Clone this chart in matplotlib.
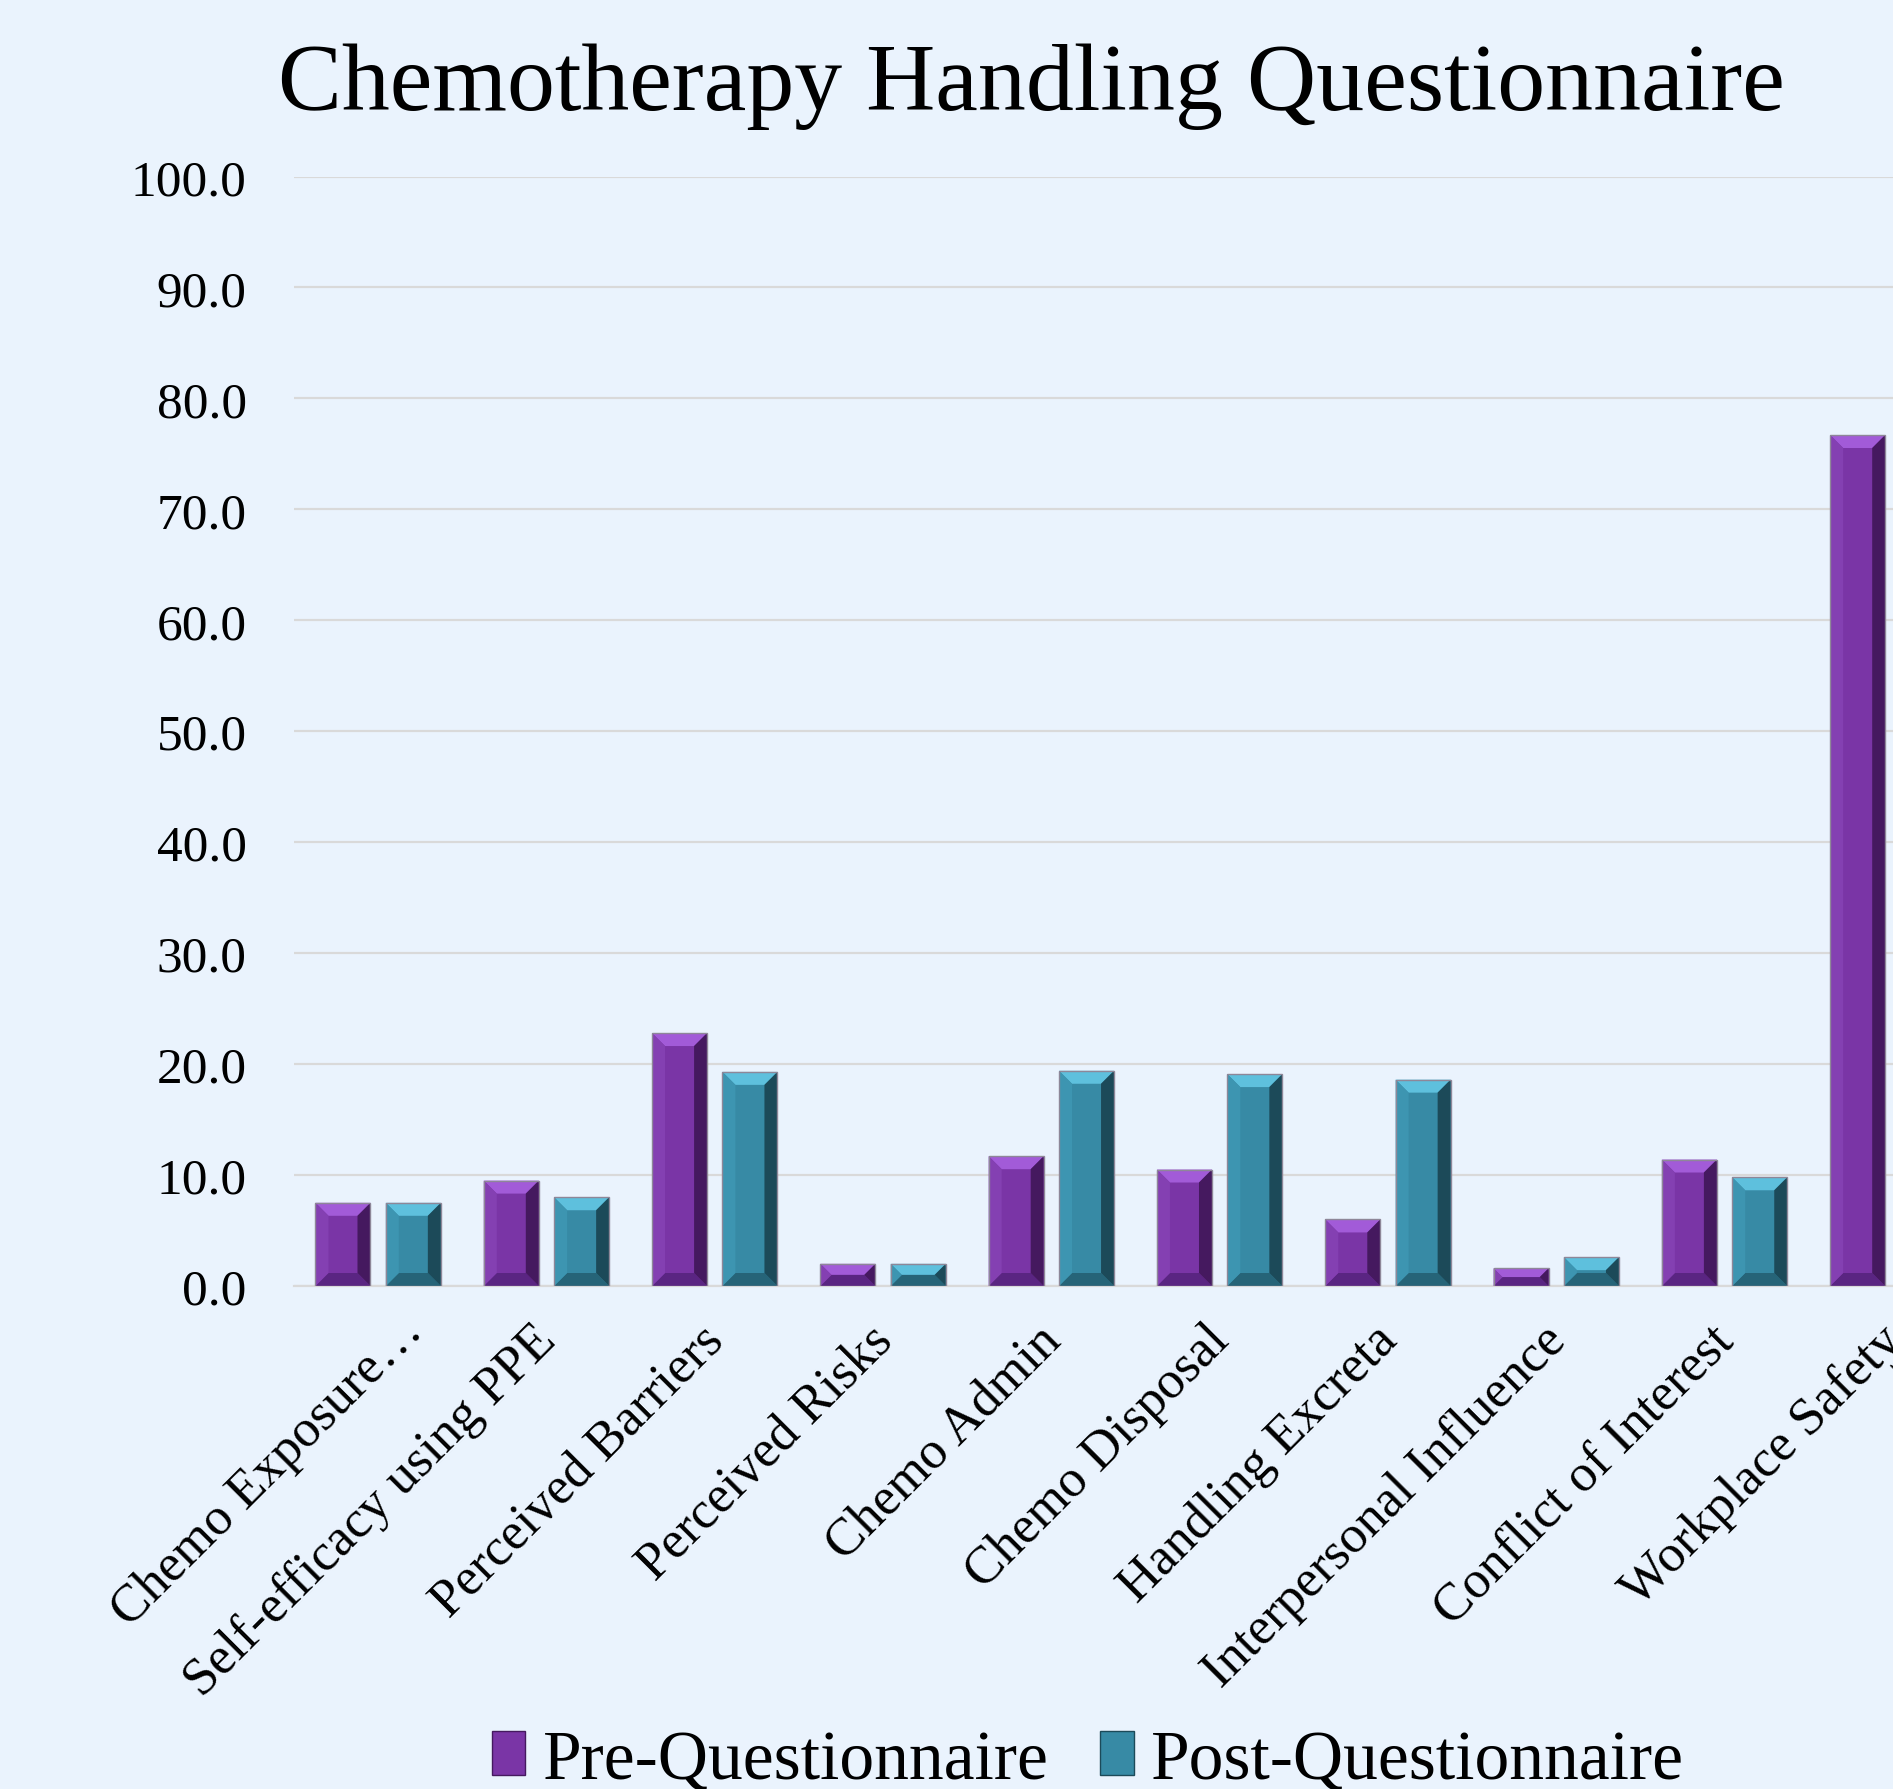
import matplotlib
matplotlib.use('Agg')
import matplotlib.pyplot as plt
from matplotlib.patches import Polygon, Rectangle
from matplotlib.transforms import ScaledTranslation
import numpy as np

categories = ['Chemo Exposure…', 'Self-efficacy using PPE', 'Perceived Barriers',
              'Perceived Risks', 'Chemo Admin', 'Chemo Disposal', 'Handling Excreta',
              'Interpersonal Influence', 'Conflict of Interest', 'Workplace Safety']
pre_values = [7.5, 9.5, 22.8, 2.0, 11.7, 10.5, 6.0, 1.6, 11.4, 76.7]
post_values = [7.5, 8.0, 19.3, 2.0, 19.4, 19.1, 18.6, 2.6, 9.8, 70.0]
series_names = ['Pre-Questionnaire', 'Post-Questionnaire']
y_ticks = np.arange(0, 101, 10)

BG = '#EAF3FD'
# main, top, bottom, left, right
PRE_COLORS = ['#7A35A6', '#A25BD8', '#5A2582', '#8440B2', '#45195F']
POST_COLORS = ['#378AA5', '#5EC0DD', '#266478', '#3D95B1', '#1C4A59']

plt.rcParams['font.family'] = ['Liberation Serif', 'DejaVu Serif']

W, H, DPI = 1893, 1790, 100
fig = plt.figure(figsize=(W / DPI, H / DPI), dpi=DPI, facecolor=BG)
ax = fig.add_axes([294 / W, 1 - 1287 / H, (1977 - 294) / W, (1287 - 177.5) / H])
ax.set_facecolor(BG)
ax.set_xlim(-0.5, len(categories) - 0.5)
ax.set_ylim(0, 100)

bar_w = 0.327
offset = 0.209
x = np.arange(len(categories))

# pixel -> data scale for the bevel size
px_x = (ax.get_position().width * W) / (len(categories))
px_y = (ax.get_position().height * H) / 100.0
bevel_px = 13


def bevel_bar(xc, h, cols):
    x0, x1 = xc - bar_w / 2, xc + bar_w / 2
    bh = min(bevel_px, h * px_y / 2.0)
    dy = bh / px_y
    dx = bh / px_x
    ax.add_patch(Rectangle((x0, 0), bar_w, h, facecolor=cols[0], edgecolor='none', zorder=3))
    # top, bottom, left, right bevels
    ax.add_patch(Polygon([(x0, h), (x1, h), (x1 - dx, h - dy), (x0 + dx, h - dy)],
                         closed=True, facecolor=cols[1], edgecolor='none', zorder=4))
    ax.add_patch(Polygon([(x0, 0), (x1, 0), (x1 - dx, dy), (x0 + dx, dy)],
                         closed=True, facecolor=cols[2], edgecolor='none', zorder=4))
    ax.add_patch(Polygon([(x0, 0), (x0 + dx, dy), (x0 + dx, h - dy), (x0, h)],
                         closed=True, facecolor=cols[3], edgecolor='none', zorder=4))
    ax.add_patch(Polygon([(x1, 0), (x1 - dx, dy), (x1 - dx, h - dy), (x1, h)],
                         closed=True, facecolor=cols[4], edgecolor='none', zorder=4))
    ax.add_patch(Rectangle((x0, 0), bar_w, h, facecolor='none', edgecolor='#8E8798',
                           linewidth=1.0, zorder=5))


for i in range(len(categories)):
    bevel_bar(x[i] - offset, pre_values[i], PRE_COLORS)
    bevel_bar(x[i] + offset, post_values[i], POST_COLORS)

ax.set_yticks(y_ticks)
ax.set_yticklabels([f'{v:.1f}' for v in y_ticks], fontsize=37)
ax.yaxis.grid(True, color='#D9D9D9', linewidth=1.6, zorder=0)
ax.set_axisbelow(True)
for s in ['top', 'right', 'left']:
    ax.spines[s].set_visible(False)
ax.spines['bottom'].set_color('#D9D9D9')
ax.spines['bottom'].set_linewidth(1.6)
ax.tick_params(axis='y', length=0, pad=34)
ax.tick_params(axis='x', length=0, pad=0)

ax.set_xticks(x)
ax.set_xticklabels(categories, fontsize=38, rotation=45, ha='right', va='baseline',
                   rotation_mode='anchor')
for lab in ax.get_xticklabels():
    # truncated labels sit a little further right/up, like in the original
    if lab.get_text().endswith('…'):
        shift = ScaledTranslation(46 / DPI, -46 / DPI, fig.dpi_scale_trans)
    else:
        shift = ScaledTranslation(11 / DPI, -56 / DPI, fig.dpi_scale_trans)
    lab.set_transform(lab.get_transform() + shift)

fig.text(1031 / W, 1 - 110 / H, 'Chemotherapy Handling Questionnaire', fontsize=69,
         ha='center', va='baseline')

handles = [Rectangle((0, 0), 1, 1, facecolor=PRE_COLORS[0], edgecolor=PRE_COLORS[4], linewidth=1),
           Rectangle((0, 0), 1, 1, facecolor=POST_COLORS[0], edgecolor=POST_COLORS[4], linewidth=1)]
fig.legend(handles, series_names, loc='center', bbox_to_anchor=(1088 / W, 1 - 1762 / H),
           ncol=2, frameon=False, fontsize=50, handlelength=0.48, handleheight=0.6,
           handletextpad=0.25, columnspacing=0.75, borderpad=0, borderaxespad=0)

fig.savefig('out.png', dpi=DPI, facecolor=BG)
